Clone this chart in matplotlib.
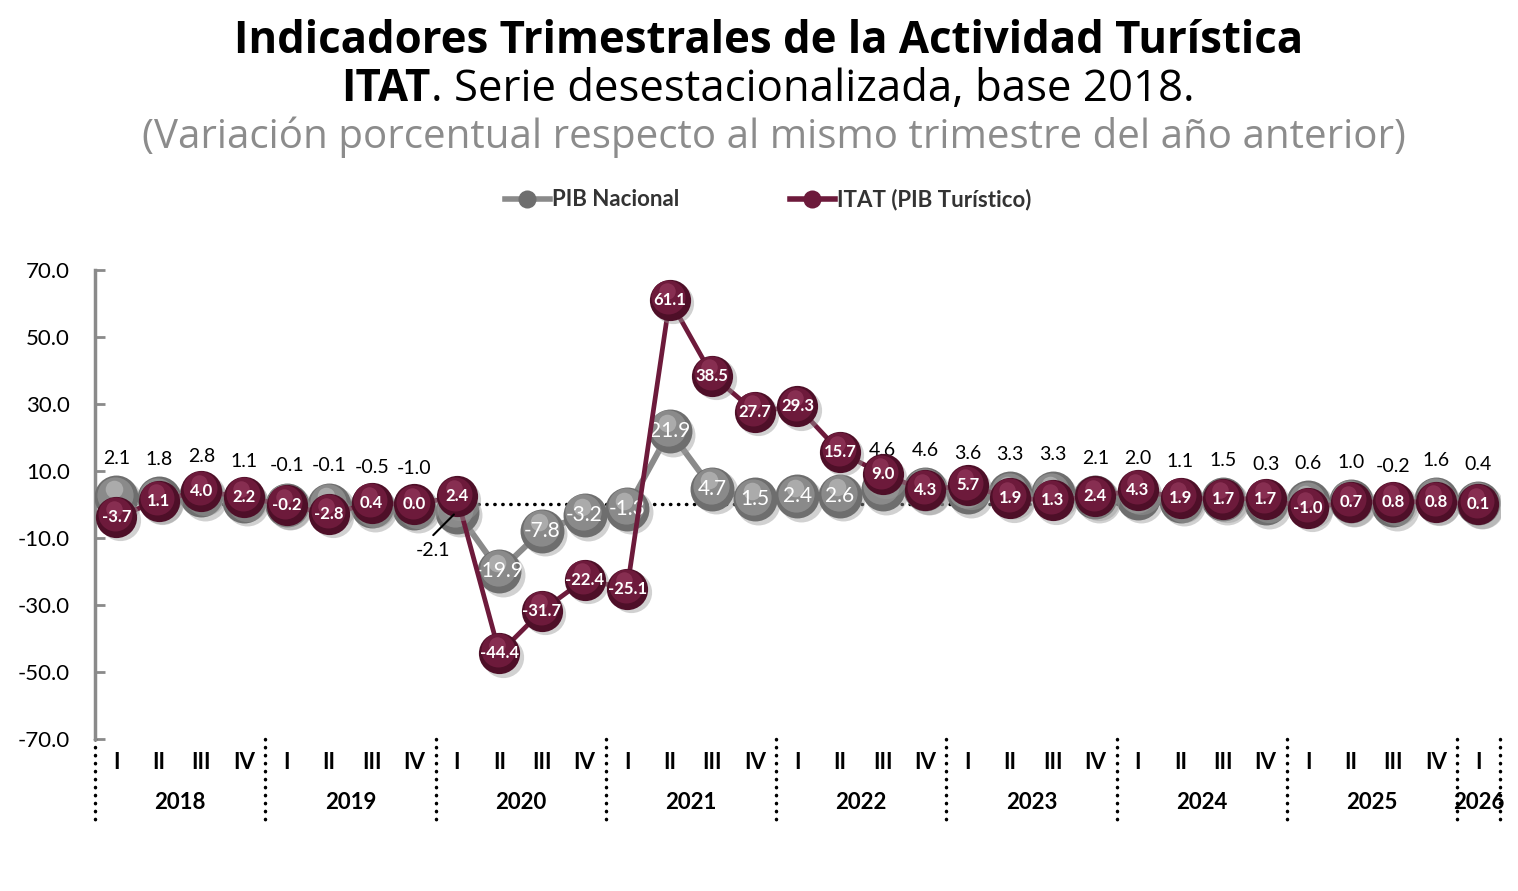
import numpy as np
import matplotlib
matplotlib.use("Agg")
import matplotlib.pyplot as plt
from matplotlib.transforms import offset_copy
from matplotlib.lines import Line2D

matplotlib.rcParams["font.family"] = ["Lato", "DejaVu Sans"]

# Datos: variación % anual, series desestacionalizadas
years = ["2018", "2019", "2020", "2021", "2022", "2023", "2024", "2025", "2026"]
quarters = ["I", "II", "III", "IV"] * 8 + ["I"]

pib = [2.1, 1.8, 2.8, 1.1, -0.1, -0.1, -0.5, -1.0,
       -2.1, -19.9, -7.8, -3.2, -1.3, 21.9, 4.7, 1.5,
       2.4, 2.6, 4.6, 4.6, 3.6, 3.3, 3.3, 2.1,
       2.0, 1.1, 1.5, 0.3, 0.6, 1.0, -0.2, 1.6, 0.4]
itat = [-3.7, 1.1, 4.0, 2.2, -0.2, -2.8, 0.4, 0.0,
        2.4, -44.4, -31.7, -22.4, -25.1, 61.1, 38.5, 27.7,
        29.3, 15.7, 9.0, 4.3, 5.7, 1.9, 1.3, 2.4,
        4.3, 1.9, 1.7, 1.7, -1.0, 0.7, 0.8, 0.8, 0.1]

GRIS = "#8a8a8a"
GRIS_OSC = "#6e6e6e"
GRIS_CLARO = "#b4b4b4"
GUINDA = "#6d1a3b"
GUINDA_OSC = "#4e0f28"
GUINDA_CLARO = "#8e3457"


def bolitas(ax, x, y, dark, base, light, s, z):
    # imitación de esferas con varias capas
    fig = ax.figure
    sombra = offset_copy(ax.transData, fig=fig, x=2.5, y=-2.5, units="points")
    ax.scatter(x, y, s=s, color="#9a9a9a", alpha=0.45, lw=0, zorder=z, transform=sombra)
    ax.scatter(x, y, s=s, color=dark, lw=0, zorder=z + 0.1)
    t1 = offset_copy(ax.transData, fig=fig, x=-1, y=2, units="points")
    ax.scatter(x, y, s=s * 0.68, color=base, lw=0, zorder=z + 0.2, transform=t1)
    t2 = offset_copy(ax.transData, fig=fig, x=-2, y=6, units="points")
    ax.scatter(x, y, s=s * 0.16, color=light, alpha=0.8, lw=0, zorder=z + 0.3, transform=t2)


fig = plt.figure(figsize=(15.18, 8.91), dpi=100)
ax = fig.add_axes([0.0626, 0.1706, 0.9254, 0.5264])

x = np.arange(len(pib))

ax.plot([-0.5, 32.5], [0, 0], color="black", lw=2.5,
        linestyle=(0, (0.1, 2.2)), dash_capstyle="round", zorder=1)

# PIB Nacional
ax.plot(x, pib, color=GRIS, lw=4.3, zorder=2)
bolitas(ax, x, pib, GRIS_OSC, GRIS, GRIS_CLARO, 1000, 3)

# ITAT
ax.plot(x, itat, color=GUINDA, lw=3.4, zorder=5)
bolitas(ax, x, itat, GUINDA_OSC, GUINDA, GUINDA_CLARO, 880, 6)

for i, (p, v) in enumerate(zip(pib, itat)):
    ax.text(i, v, f"{v:.1f}", ha="center", va="center", color="white",
            fontsize=12, fontweight="bold", zorder=8)
    if 9 <= i <= 17:
        ax.text(i, p, f"{p:.1f}", ha="center", va="center", color="white",
                fontsize=15, zorder=4.5)
    elif i == 8:
        ax.annotate("", xy=(i, p), xytext=(-17, -17),
                    textcoords="offset points", zorder=10,
                    arrowprops=dict(arrowstyle="-", color="black", lw=1.5,
                                    shrinkA=0, shrinkB=3))
        ax.annotate(f"{p:.1f}", xy=(i, p), xytext=(-17, -28),
                    textcoords="offset points", ha="center", va="center",
                    fontsize=14, color="black", zorder=10)
    else:
        ax.annotate(f"{p:.1f}", xy=(i, p), xytext=(0, 28),
                    textcoords="offset points", ha="center", va="center",
                    fontsize=14, color="black")

ax.set_xlim(-0.5, 32.5)
ax.set_ylim(-70, 70)
ax.set_yticks(np.arange(-70, 71, 20))
ax.set_yticklabels([f"{t:.1f}" for t in np.arange(-70, 71, 20)], fontsize=16)
ax.tick_params(axis="y", direction="in", length=7, width=2, color=GRIS, pad=18)
ax.tick_params(axis="x", bottom=False, labelbottom=False)
for lado in ["top", "right", "bottom"]:
    ax.spines[lado].set_visible(False)
ax.spines["left"].set_color(GRIS)
ax.spines["left"].set_linewidth(2.5)

# eje de trimestres y años
tr = ax.get_xaxis_transform()
for i, q in enumerate(quarters):
    ax.text(i, -0.051, q, transform=tr, ha="center", va="center",
            fontsize=16, fontweight="bold", clip_on=False)
for k, a in enumerate(years):
    xc = 32 if a == "2026" else 4 * k + 1.5
    ax.text(xc, -0.136, a, transform=tr, ha="center", va="center",
            fontsize=16, fontweight="bold", clip_on=False)
for xs in list(np.arange(-0.5, 32, 4)) + [32.5]:
    ax.plot([xs, xs], [0, -0.173], transform=tr, color="black", lw=2.5,
            linestyle=(0, (0.1, 2.2)), dash_capstyle="round", clip_on=False)

# leyenda
h1 = Line2D([], [], color=GRIS, lw=4, marker="o", markersize=13,
            markerfacecolor=GRIS_OSC, markeredgewidth=0)
h2 = Line2D([], [], color=GUINDA, lw=4, marker="o", markersize=13,
            markerfacecolor=GUINDA, markeredgewidth=0)
fig.legend([h1, h2], ["PIB Nacional", "ITAT (PIB Turístico)"],
           loc="center", bbox_to_anchor=(0.506, 0.776), ncol=2, frameon=False,
           prop={"weight": "bold", "size": 16}, handlelength=2.0,
           handletextpad=0.1, columnspacing=5.0, labelcolor="#333333")

# títulos
tfont = ["Open Sans", "DejaVu Sans"]
fig.text(0.506, 0.953, "Indicadores Trimestrales de la Actividad Turística",
         ha="center", va="center", fontsize=31.5, fontweight="bold", family=tfont)
r = fig.canvas.get_renderer()
t_a = fig.text(0, 0.899, "ITAT", ha="left", va="center", fontsize=31.5,
               fontweight="bold", family=tfont)
t_b = fig.text(0, 0.899, ". Serie desestacionalizada, base 2018.", ha="left",
               va="center", fontsize=31.5, family=tfont)
wa = t_a.get_window_extent(r).width / fig.bbox.width
wb = t_b.get_window_extent(r).width / fig.bbox.width
x0 = 0.506 - (wa + wb) / 2
t_a.set_x(x0)
t_b.set_x(x0 + wa)
fig.text(0.51, 0.846, "(Variación porcentual respecto al mismo trimestre del año anterior)",
         ha="center", va="center", fontsize=29, color="#8c8c8c", family=tfont)

fig.savefig("out.png", dpi=100, facecolor="white")
